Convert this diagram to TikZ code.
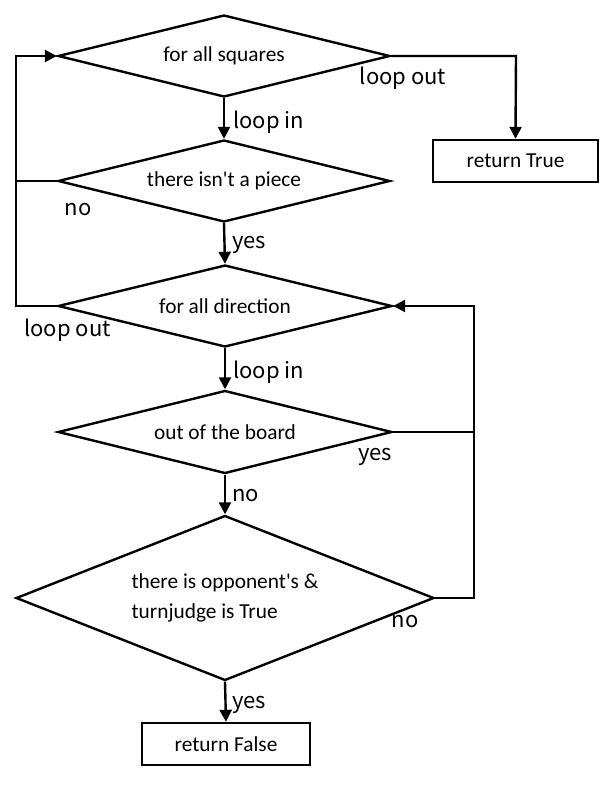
\documentclass[tikz,border=0pt]{standalone}
\usepackage{fontspec}
\setmainfont{Carlito}
\newfontfamily\labelfont{Noto Sans CJK JP}
\usetikzlibrary{shapes.geometric,arrows.meta}
\begin{document}
\begin{tikzpicture}[x=0.75pt,y=-0.75pt,
    decision/.style={draw,diamond,inner sep=0pt,line width=1.8pt,font=\fontsize{16}{22}\selectfont},
    result/.style={draw,line width=1.8pt,rectangle,inner sep=0pt,minimum height=31.5pt,font=\fontsize{16}{20}\selectfont},
    flow/.style={line width=1.8pt,-{Triangle[length=9pt,width=9pt]}},
    link/.style={line width=1.8pt},
    lbl/.style={font=\labelfont\fontsize{16.5}{18}\selectfont,inner sep=0pt}]
  \useasboundingbox (0,0) rectangle (610,789);
  % decisions
  \node[decision,aspect=4.05,minimum width=249pt,minimum height=61.5pt] (squares) at (224,56) {for all squares};
  \node[decision,aspect=4.05,minimum width=249pt,minimum height=61.5pt] (piece) at (224,181) {there isn\textquotesingle t a piece};
  \node[decision,aspect=4.05,minimum width=250.5pt,minimum height=61.5pt] (direction) at (225,306) {for all direction};
  \node[decision,aspect=4.05,minimum width=250.5pt,minimum height=62.25pt] (board) at (225,432) {out of the board};
  \node[decision,aspect=2.53,minimum width=313.5pt,minimum height=123.75pt,align=left] (opponent) at (225,598) {there is opponent\textquotesingle s \&\\turnjudge is True};
  % results
  \node[result,minimum width=123.75pt] (rtrue) at (515.5,161) {return True};
  \node[result,minimum width=126pt] (rfalse) at (226,744) {return False};
  % corners
  \coordinate (sq-left) at (16,56);
  \coordinate (pc-left) at (16,181);
  \coordinate (dr-left) at (16,306);
  \coordinate (sq-right) at (516,56);
  \coordinate (bd-right) at (474,432);
  \coordinate (op-right) at (474,598);
  \coordinate (dr-right) at (474,306);
  % connectors
  \draw[flow] (squares.south) -- (piece.north);
  \draw[flow] (piece.south) -- (direction.north);
  \draw[flow] (direction.south) -- (board.north);
  \draw[flow] (board.south) -- (opponent.north);
  \draw[flow] (opponent.south) -- (rfalse.north);
  \draw[flow] (squares.east) -- (sq-right) -- (rtrue.north);
  \draw[link] (piece.west) -- (pc-left);
  \draw[flow] (direction.west) -- (dr-left) -- (sq-left) -- (squares.west);
  \draw[link] (board.east) -- (bd-right);
  \draw[flow] (opponent.east) -- (op-right) -- (dr-right) -- (direction.east);
  % labels
  \node[lbl] (l-sqout) at (403,78) {loop out};
  \node[lbl,anchor=west] (l-sqin) at (233,122) {loop in};
  \node[lbl] (l-pcno) at (78,210) {no};
  \node[lbl,anchor=west] (l-pcyes) at (232,245) {yes};
  \node[lbl,anchor=west] (l-drout) at (24,330) {loop out};
  \node[lbl,anchor=west] (l-drin) at (233,372) {loop in};
  \node[lbl] (l-bdyes) at (375,457) {yes};
  \node[lbl,anchor=west] (l-bdno) at (232,496) {no};
  \node[lbl] (l-opno) at (405,622) {no};
  \node[lbl,anchor=west] (l-opyes) at (232,705) {yes};
\end{tikzpicture}
\end{document}
